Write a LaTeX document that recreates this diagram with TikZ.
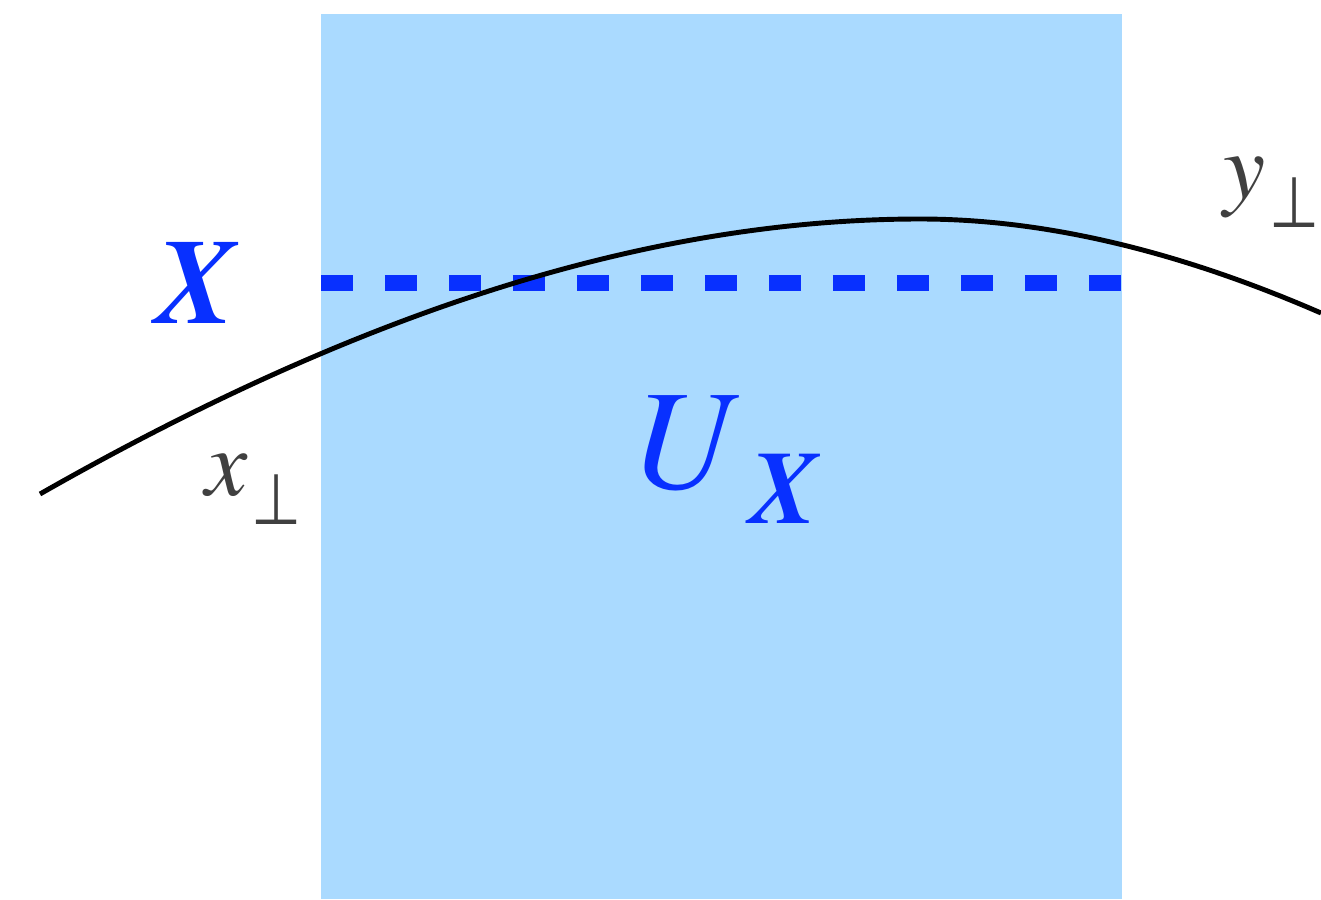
\documentclass[tikz,border=0pt]{standalone}
\usepackage{fontspec}
\setmainfont{texgyretermes}[Extension=.otf, UprightFont=*-regular, ItalicFont=*-italic, BoldFont=*-bold, BoldItalicFont=*-bolditalic]
\newfontfamily\symfont{DejaVu Sans}
\usepackage{graphicx}
\definecolor{lightblue}{RGB}{170,218,255}
\definecolor{vivid}{RGB}{8,48,255}
\definecolor{labgray}{RGB}{64,64,64}
\newcommand{\perpsym}{\resizebox{28.5pt}{28.3pt}{\symfont ⊥}}
\tikzset{
  region/.style={fill=lightblue, draw=none},
  level/.style={draw=vivid, line width=0.32cm, dash pattern=on 0.64cm off 0.64cm, line cap=butt},
  orbit/.style={draw=black, line width=2.8pt},
  biglabel/.style={inner sep=0, anchor=base west, text=vivid},
  smalllabel/.style={inner sep=0, anchor=base west, text=labgray},
}
\begin{document}
\begin{tikzpicture}[x=0.02cm, y=-0.02cm]
\useasboundingbox (0,0) rectangle (1321,899);
\fill[region] (321,14) rectangle (1122,899);
\coordinate (dl) at (321,283);
\coordinate (dr) at (1122,283);
\draw[level] (dl) -- (dr);
\coordinate (c0) at (40,494);
\coordinate (c1) at (920,219);
\coordinate (c2) at (1321,313);
\draw[orbit] (c0) .. controls (333,327) and (627,219) .. (c1)
             .. controls (1054,219) and (1190,256) .. (c2);
\node[biglabel] (X) at (154,323) {\fontsize{69}{69}\selectfont\textbf{\textit{X}}};
\node[biglabel] (U) at (630,488) {\fontsize{81}{81}\selectfont\textit{U}\kern 5pt\raisebox{-20.4pt}{\fontsize{59}{59}\selectfont\textbf{\textit{X}}}};
\node[smalllabel] (xp) at (205,495) {\fontsize{54}{54}\selectfont\textit{x}\kern 2pt\raisebox{-17pt}{\perpsym}};
\node[smalllabel] (yp) at (1223,198) {\fontsize{54}{54}\selectfont\textit{y}\kern 2.5pt\raisebox{-17pt}{\perpsym}};
\end{tikzpicture}
\end{document}
